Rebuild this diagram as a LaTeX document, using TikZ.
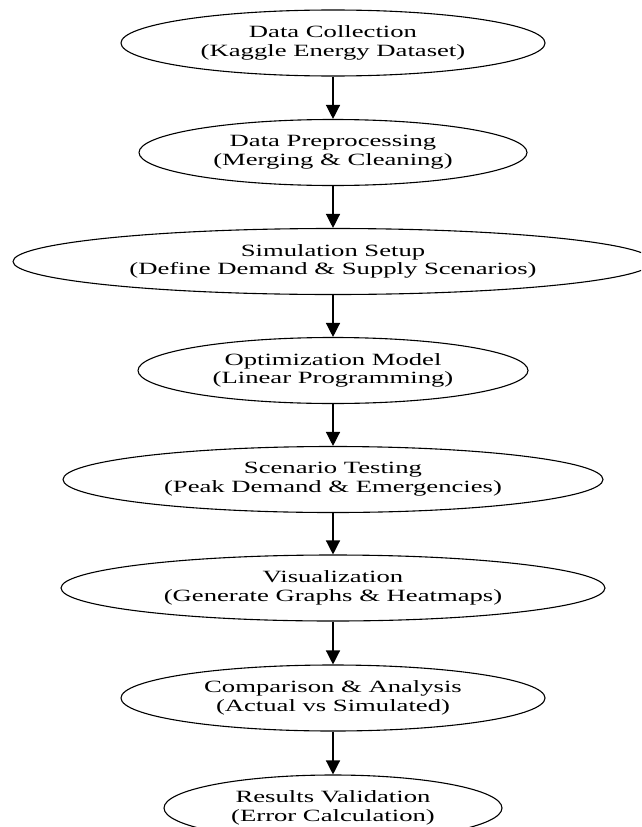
\documentclass[tikz,border=0pt]{standalone}
\usepackage{fontspec}
\setmainfont{Liberation Serif}[FakeStretch=1.55]
\usetikzlibrary{shapes.geometric,arrows.meta}
\begin{document}
\begin{tikzpicture}[x=1pt,y=-1pt,
  stage/.style={ellipse,draw=black,line width=1.1pt,inner sep=0pt,minimum height=66pt,align=center,
    font=\fontsize{17.2}{18.7}\selectfont,execute at begin node={\rule{0pt}{19pt}}},
  flow/.style={line width=1.3pt,-{Triangle[length=14pt,width=14pt]}}]
\useasboundingbox (0,0) rectangle (641,827);
\fill[white] (0,0) rectangle (641,827);
\clip (0,0) rectangle (641,827);
\node[stage,minimum width=424pt] (n1) at (333,43) {Data Collection\\(Kaggle Energy Dataset)};
\node[stage,minimum width=388pt] (n2) at (333,152.5) {Data Preprocessing\\(Merging \& Cleaning)};
\node[stage,minimum width=640pt] (n3) at (333,261.5) {Simulation Setup\\(Define Demand \& Supply Scenarios)};
\node[stage,minimum width=390pt] (n4) at (333,370.5) {Optimization Model\\(Linear Programming)};
\node[stage,minimum width=540pt] (n5) at (333,479.5) {Scenario Testing\\(Peak Demand \& Emergencies)};
\node[stage,minimum width=544pt] (n6) at (333,588) {Visualization\\(Generate Graphs \& Heatmaps)};
\node[stage,minimum width=424pt] (n7) at (333,698) {Comparison \& Analysis\\(Actual vs Simulated)};
\node[stage,minimum width=338pt] (n8) at (333,808) {Results Validation\\(Error Calculation)};
\draw[flow] (n1) -- (n2);
\draw[flow] (n2) -- (n3);
\draw[flow] (n3) -- (n4);
\draw[flow] (n4) -- (n5);
\draw[flow] (n5) -- (n6);
\draw[flow] (n6) -- (n7);
\draw[flow] (n7) -- (n8);
\end{tikzpicture}
\end{document}
